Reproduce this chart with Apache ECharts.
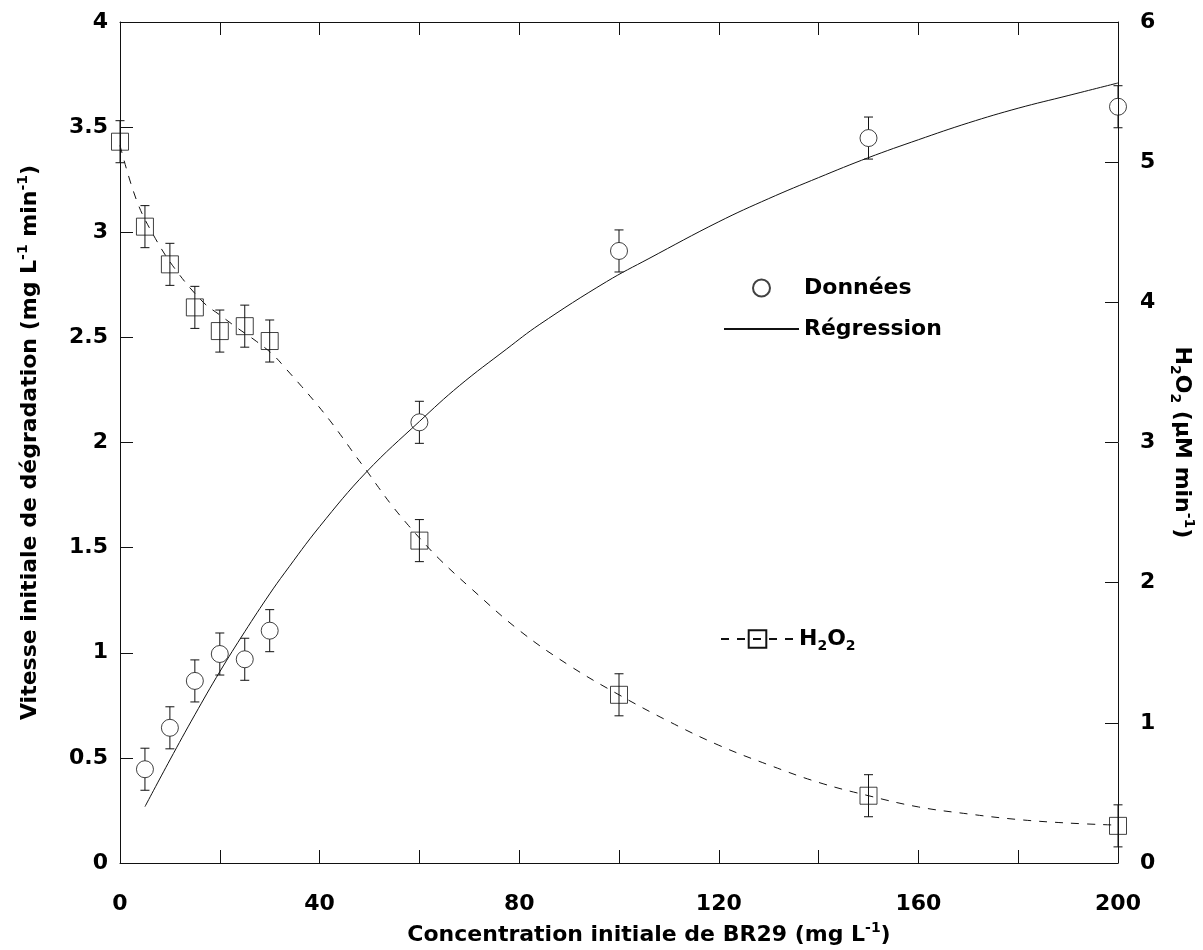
<!DOCTYPE html>
<html>
<head>
<meta charset="utf-8">
<script src="https://cdn.jsdelivr.net/npm/echarts@6/dist/echarts.min.js"></script>
<style>html,body{margin:0;padding:0;background:#fff;}#c{width:1203px;height:950px;}</style>
</head>
<body>
<div id="c"></div>
<script>
// ---- data ----
var rateX = [5, 10, 15, 20, 25, 30, 60, 100, 150, 200];
var rateY = [0.446, 0.643, 0.866, 0.994, 0.969, 1.105, 2.096, 2.911, 3.448, 3.597];
var rateErr = [0.1, 0.1, 0.1, 0.1, 0.1, 0.1, 0.1, 0.1, 0.1, 0.1];

var h2o2X = [0, 5, 10, 15, 20, 25, 30, 60, 100, 150, 200];
var h2o2Y = [5.146, 4.54, 4.271, 3.964, 3.795, 3.83, 3.724, 2.30, 1.20, 0.48, 0.265];
var h2o2Err = [0.15, 0.15, 0.15, 0.15, 0.15, 0.15, 0.15, 0.15, 0.15, 0.15, 0.15];

var regX = [5, 10, 15, 20, 25, 30, 33, 40, 49.4, 60, 68, 77.5, 84, 97.5, 106, 120, 130, 140, 150, 160, 170, 180, 190, 200];
var regY = [0.268, 0.49, 0.705, 0.91, 1.10, 1.28, 1.38, 1.60, 1.86, 2.10, 2.27, 2.445, 2.56, 2.765, 2.875, 3.05, 3.16, 3.26, 3.355, 3.44, 3.52, 3.59, 3.65, 3.71];

var fitX = [0, 3.3, 6.7, 11, 16.7, 20, 23.4, 27.4, 30.7, 33.4, 36.4, 39.4, 42.1, 44.7, 47.1, 49.4, 51.8, 54.4, 57.4, 60.5, 64.1, 70, 80, 90, 100, 110, 120, 130, 140, 150, 160, 170, 180, 190, 200];
var fitY = [5.12, 4.73, 4.48, 4.24, 4.00, 3.91, 3.82, 3.72, 3.625, 3.52, 3.40, 3.275, 3.155, 3.03, 2.91, 2.80, 2.68, 2.555, 2.425, 2.30, 2.165, 1.97, 1.66, 1.41, 1.20, 1.01, 0.84, 0.70, 0.575, 0.48, 0.40, 0.35, 0.31, 0.285, 0.27];

var xTicks = [0, 40, 80, 120, 160, 200];

function zip(a, b, c) { return a.map(function (v, i) { return c ? [v, b[i], c[i]] : [v, b[i]]; }); }

var FONT = "'DejaVu Sans', 'Liberation Sans', sans-serif";
var INK = '#111';
var richBase = {
  t: { fontSize: 22, fontWeight: 'bold', fontFamily: FONT, color: '#000', lineHeight: 28 },
  sup: { fontSize: 14, fontWeight: 'bold', fontFamily: FONT, color: '#000', lineHeight: 28, padding: [0, 0, 14, 0] },
  sub: { fontSize: 14, fontWeight: 'bold', fontFamily: FONT, color: '#000', lineHeight: 28, padding: [14, 0, 0, 0] }
};
var labelStyle = { fontSize: 22, fontWeight: 'bold', fontFamily: FONT, color: '#000' };

function errRender(gapR) {
  return function (params, api) {
    var x = api.value(0), y = api.value(1), e = api.value(2);
    var p = api.coord([x, y]);
    var t = api.coord([x, y + e]);
    var b = api.coord([x, y - e]);
    var w = 4.5;
    var st = { stroke: INK, lineWidth: 1 };
    var ch = [
      { type: 'line', shape: { x1: p[0] - w, y1: t[1], x2: p[0] + w, y2: t[1] }, style: st },
      { type: 'line', shape: { x1: p[0] - w, y1: b[1], x2: p[0] + w, y2: b[1] }, style: st }
    ];
    if (gapR > 0) {
      ch.push({ type: 'line', shape: { x1: p[0], y1: t[1], x2: p[0], y2: p[1] - gapR }, style: st });
      ch.push({ type: 'line', shape: { x1: p[0], y1: p[1] + gapR, x2: p[0], y2: b[1] }, style: st });
    } else {
      ch.push({ type: 'line', shape: { x1: p[0], y1: t[1], x2: p[0], y2: b[1] }, style: st });
    }
    return { type: 'group', children: ch };
  };
}

var axisLine = { show: true, onZero: false, lineStyle: { color: INK, width: 1 } };
var tick = { show: true, inside: true, length: 13, lineStyle: { color: INK, width: 1 } };

var chart = echarts.init(document.getElementById('c'), null, { renderer: 'canvas' });
chart.setOption({
  backgroundColor: '#fff',
  animation: false,
  grid: { left: 120, right: 85, top: 22, bottom: 87, show: false, containLabel: false, outerBoundsMode: 'none' },
  legend: [
    {
      data: ['Données', 'Régression'], orient: 'vertical', left: 723, top: 277, padding: 0,
      itemWidth: 75, itemHeight: 17, itemGap: 19, selectedMode: false,
      textStyle: { fontSize: 22, fontWeight: 'bold', fontFamily: FONT, color: '#000' }
    },
    {
      data: ['H2O2'], left: 720, top: 625, padding: 0, itemWidth: 73, itemHeight: 22, selectedMode: false,
      formatter: function () { return '{t|H}{sub|2}{t|O}{sub|2}'; },
      textStyle: { rich: richBase }
    }
  ],
  xAxis: [
    {
      type: 'value', min: 0, max: 200, interval: 20, position: 'bottom',
      axisLine: axisLine, axisTick: tick, splitLine: { show: false },
      axisLabel: Object.assign({ margin: 30, formatter: function (v) { return xTicks.indexOf(v) >= 0 ? String(v) : ''; } }, labelStyle),
      name: '{t|Concentration initiale de BR29 (mg L}{sup|-1}{t|)}',
      nameLocation: 'middle', nameGap: 58,
      nameTextStyle: { rich: richBase, padding: [0, 0, 0, 60] }
    },
    {
      type: 'value', min: 0, max: 200, interval: 20, position: 'top',
      axisLine: axisLine, axisTick: tick, splitLine: { show: false }, axisLabel: { show: false }
    }
  ],
  yAxis: [
    {
      type: 'value', min: 0, max: 4, interval: 0.5, position: 'left',
      axisLine: axisLine, axisTick: tick, splitLine: { show: false },
      axisLabel: Object.assign({ margin: 12 }, labelStyle),
      name: '{t|Vitesse initiale de dégradation (mg L}{sup|-1}{t| min}{sup|-1}{t|)}',
      nameLocation: 'middle', nameGap: 76, nameRotate: 90,
      nameTextStyle: { rich: richBase }
    },
    {
      type: 'value', min: 0, max: 6, interval: 1, position: 'right',
      axisLine: axisLine, axisTick: tick, splitLine: { show: false },
      axisLabel: Object.assign({ margin: 22 }, labelStyle),
      name: '{t|H}{sub|2}{t|O}{sub|2}{t| (µM min}{sup|-1}{t|)}',
      nameLocation: 'middle', nameGap: 50, nameRotate: -90,
      nameTextStyle: { rich: richBase }
    }
  ],
  series: [
    {
      name: 'Régression', type: 'line', xAxisIndex: 0, yAxisIndex: 0,
      data: zip(regX, regY), smooth: 0.4, symbol: 'none',
      lineStyle: { color: INK, width: 1 }, itemStyle: { color: 'rgba(0,0,0,0)', borderWidth: 0 }, z: 3
    },
    {
      name: 'H2O2', type: 'line', xAxisIndex: 0, yAxisIndex: 1,
      data: zip(fitX, fitY), smooth: 0.4, symbol: 'rect', symbolSize: 17, showSymbol: false,
      lineStyle: { color: INK, width: 1, type: [8, 8] },
      itemStyle: { color: 'rgba(0,0,0,0)', borderColor: INK, borderWidth: 1 }, z: 3
    },
    {
      name: 'Données', type: 'scatter', xAxisIndex: 0, yAxisIndex: 0,
      data: zip(rateX, rateY), symbol: 'circle', symbolSize: 17,
      itemStyle: { color: 'rgba(0,0,0,0)', borderColor: INK, borderWidth: 1 }, z: 4
    },
    {
      name: 'h2o2pts', type: 'scatter', xAxisIndex: 0, yAxisIndex: 1,
      data: zip(h2o2X, h2o2Y), symbol: 'rect', symbolSize: 17,
      itemStyle: { color: 'rgba(0,0,0,0)', borderColor: INK, borderWidth: 1 }, z: 4
    },
    {
      name: 'errRate', type: 'custom', xAxisIndex: 0, yAxisIndex: 0,
      data: zip(rateX, rateY, rateErr), renderItem: errRender(8.5), z: 5
    },
    {
      name: 'errH2O2', type: 'custom', xAxisIndex: 0, yAxisIndex: 1,
      data: zip(h2o2X, h2o2Y, h2o2Err), renderItem: errRender(0), z: 5
    }
  ]
});
</script>
</body>
</html>
